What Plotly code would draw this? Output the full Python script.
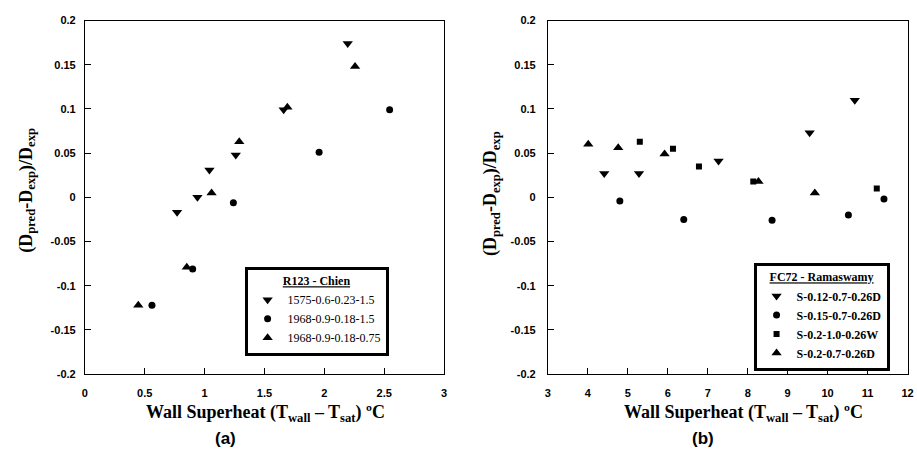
import plotly.graph_objects as go

# ---- Panel (a): R123 - Chien ----
a_down_x = [0.77, 0.94, 1.04, 1.26, 1.66, 2.195]
a_down_y = [-0.017, 0.0, 0.031, 0.048, 0.099, 0.174]
a_circ_x = [0.56, 0.90, 1.24, 1.956, 2.545]
a_circ_y = [-0.122, -0.081, -0.006, 0.051, 0.099]
a_up_x = [0.446, 0.851, 1.058, 1.289, 1.691, 2.256]
a_up_y = [-0.122, -0.079, 0.005, 0.063, 0.102, 0.148]
a_names = ["1575-0.6-0.23-1.5", "1968-0.9-0.18-1.5", "1968-0.9-0.18-0.75"]
a_xticks = [0, 0.5, 1, 1.5, 2, 2.5, 3]
a_xticktext = ["0", "0.5", "1", "1.5", "2", "2.5", "3"]

# ---- Panel (b): FC72 - Ramaswamy ----
b_down_x = [4.41, 5.28, 7.27, 9.55, 10.68]
b_down_y = [0.027, 0.027, 0.041, 0.073, 0.110]
b_circ_x = [4.80, 6.40, 8.61, 10.52, 11.41]
b_circ_y = [-0.004, -0.025, -0.026, -0.020, -0.002]
b_sq_x = [5.30, 6.13, 6.78, 8.14, 11.23]
b_sq_y = [0.063, 0.055, 0.035, 0.018, 0.010]
b_up_x = [4.01, 4.76, 5.92, 8.27, 9.68]
b_up_y = [0.060, 0.056, 0.049, 0.018, 0.005]
b_names = ["S-0.12-0.7-0.26D", "S-0.15-0.7-0.26D", "S-0.2-1.0-0.26W", "S-0.2-0.7-0.26D"]
b_xticks = [3, 4, 5, 6, 7, 8, 9, 10, 11, 12]
b_xticktext = ["3", "4", "5", "6", "7", "8", "9", "10", "11", "12"]

# shared y ticks
y_ticks = [-0.2, -0.15, -0.1, -0.05, 0, 0.05, 0.1, 0.15, 0.2]
y_ticktext = ["-0.2", "-0.15", "-0.1", "-0.05", "0", "0.05", "0.1", "0.15", "0.2"]

W, H = 917, 457
fig = go.Figure()

def add(x, y, name, sym, size, xa, ya, leg):
    fig.add_trace(go.Scatter(x=x, y=y, mode="markers", name=name,
                             marker=dict(symbol=sym, size=size, color="black"),
                             xaxis=xa, yaxis=ya, legend=leg))

add(a_down_x, a_down_y, a_names[0], "triangle-down", 9, "x", "y", "legend")
add(a_circ_x, a_circ_y, a_names[1], "circle", 7, "x", "y", "legend")
add(a_up_x, a_up_y, a_names[2], "triangle-up", 9, "x", "y", "legend")

add(b_down_x, b_down_y, b_names[0], "triangle-down", 9, "x2", "y2", "legend2")
add(b_circ_x, b_circ_y, b_names[1], "circle", 7, "x2", "y2", "legend2")
add(b_sq_x, b_sq_y, b_names[2], "square", 6, "x2", "y2", "legend2")
add(b_up_x, b_up_y, b_names[3], "triangle-up", 9, "x2", "y2", "legend2")

px = lambda p: p / W
py = lambda p: 1 - p / H

tickfont = dict(family="Liberation Sans", size=11, color="black", weight="bold")
axcommon = dict(showgrid=False, zeroline=False, showline=True, mirror=True,
                linecolor="black", linewidth=1, ticks="inside", ticklen=6,
                tickwidth=1, tickcolor="black", tickfont=tickfont)

ydom = [py(378), py(15)]
fig.update_layout(
    width=W, height=H, margin=dict(l=0, r=0, t=0, b=0),
    paper_bgcolor="white", plot_bgcolor="white",
    xaxis=dict(domain=[px(82.7), px(445.5)], range=[0, 3], anchor="y",
               tickmode="array", tickvals=a_xticks, ticktext=a_xticktext,
               ticklabelstandoff=9, **axcommon),
    yaxis=dict(domain=ydom, range=[-0.2, 0.2], anchor="x",
               tickmode="array", tickvals=y_ticks, ticktext=y_ticktext,
               ticklabelstandoff=6, **axcommon),
    xaxis2=dict(domain=[px(550.3), px(913.5)], range=[3, 12], anchor="y2",
                tickmode="array", tickvals=b_xticks, ticktext=b_xticktext,
                ticklabelstandoff=9, **axcommon),
    yaxis2=dict(domain=ydom, range=[-0.2, 0.2], anchor="x2",
                tickmode="array", tickvals=y_ticks, ticktext=y_ticktext,
                ticklabelstandoff=9, **axcommon),
    legend=dict(x=px(244), y=py(267.7), xanchor="left", yanchor="top",
                bordercolor="black", borderwidth=3, bgcolor="white",
                font=dict(family="Liberation Serif", size=12, color="black"),
                title=dict(text="<b><u>R123 - Chien</u></b>", side="top center",
                           font=dict(family="Liberation Serif", size=12)),
                itemwidth=30, tracegroupgap=0),
    legend2=dict(x=px(758), y=py(263.7), xanchor="left", yanchor="top",
                 bordercolor="black", borderwidth=3, bgcolor="white",
                 font=dict(family="Liberation Serif", size=12, color="black", weight="bold"),
                 title=dict(text="<b><u>FC72 - Ramaswamy</u></b>", side="top center",
                            font=dict(family="Liberation Serif", size=12)),
                 itemwidth=30, tracegroupgap=0),
    showlegend=True,
)

ytitle = "<b>(D<sub>pred</sub>-D<sub>exp</sub>)/D<sub>exp</sub></b>"
xtitle = "<b>Wall Superheat (T<sub>wall</sub> – T<sub>sat</sub>) ºC</b>"
serif = dict(family="Liberation Serif", size=18, color="black")
ann = [
    dict(x=px(24), y=py(189), text=ytitle, textangle=-90, font=serif),
    dict(x=px(494), y=py(193), text=ytitle, textangle=-90, font=serif),
    dict(x=px(265), y=py(419), text=xtitle, font=serif),
    dict(x=px(748), y=py(419), text=xtitle, font=serif),
    dict(x=px(225), y=py(444), text="<b>(a)</b>",
         font=dict(family="Liberation Sans", size=17, color="black")),
    dict(x=px(707), y=py(444), text="<b>(b)</b>",
         font=dict(family="Liberation Sans", size=17, color="black")),
]
for a in ann:
    a.update(xref="paper", yref="paper", showarrow=False, xanchor="center", yanchor="middle")
fig.update_layout(annotations=ann)

fig.write_html("out.html")
